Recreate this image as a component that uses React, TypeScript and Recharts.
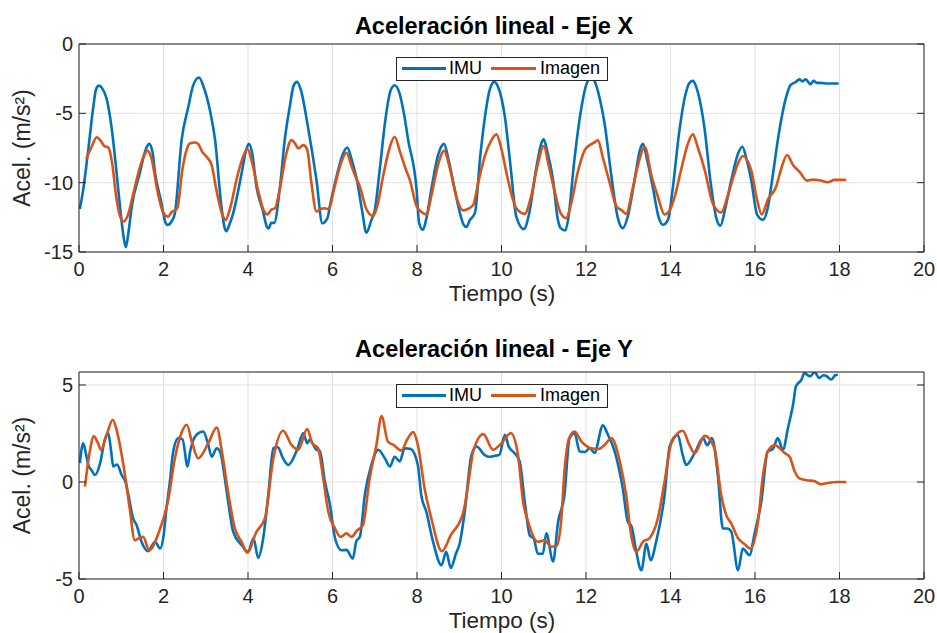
import { CartesianGrid, Legend, Line, LineChart, XAxis, YAxis } from "recharts";

const FONT = '"Liberation Sans", Arial, Helvetica, sans-serif';
const INK = "#262626";
const GRID = "#e1e1e1";
const BLUE = "#0072BD";
const ORANGE = "#D95319";

const timeTicks = [0, 2, 4, 6, 8, 10, 12, 14, 16, 18, 20];
const accelXTicks = [-15, -10, -5, 0];
const accelYTicks = [-5, 0, 5];

// Eje X - IMU
const imuXTime = [
  0.02, 0.1, 0.22, 0.34, 0.4, 0.47, 0.55, 0.65, 0.77, 0.88, 0.98, 1.06, 1.11, 1.17, 1.25, 1.44, 1.58, 1.66, 1.74,
  1.8, 1.94, 2.05, 2.1, 2.19, 2.27, 2.43, 2.59, 2.7, 2.84, 2.95, 3.1, 3.22, 3.37, 3.45, 3.49, 3.55, 3.65, 3.85,
  3.96, 4.02, 4.1, 4.2, 4.35, 4.45, 4.49, 4.55, 4.62, 4.75, 4.87, 4.99, 5.08, 5.16, 5.25, 5.42, 5.62, 5.76, 5.88,
  5.95, 6.1, 6.25, 6.35, 6.45, 6.57, 6.7, 6.8, 6.92, 7.0, 7.12, 7.25, 7.37, 7.47, 7.57, 7.69, 7.79, 7.99, 8.05,
  8.14, 8.22, 8.35, 8.5, 8.64, 8.75, 8.9, 8.97, 9.1, 9.17, 9.25, 9.37, 9.5, 9.62, 9.72, 9.83, 9.92, 10.08, 10.22,
  10.35, 10.53, 10.65, 10.82, 10.95, 11.0, 11.08, 11.22, 11.33, 11.4, 11.51, 11.58, 11.72, 11.88, 12.0, 12.13,
  12.22, 12.33, 12.44, 12.6, 12.75, 12.87, 13.0, 13.15, 13.28, 13.35, 13.45, 13.58, 13.72, 13.82, 13.94, 14.05,
  14.2, 14.35, 14.45, 14.53, 14.62, 14.81, 14.95, 15.08, 15.18, 15.3, 15.44, 15.6, 15.7, 15.8, 15.91, 16.05,
  16.19, 16.3, 16.42, 16.54, 16.74, 16.84, 16.97, 17.05, 17.12, 17.2, 17.31, 17.39, 17.46, 17.55, 17.72, 17.85,
  17.98,
];
const imuXAccel = [
  -11.9, -10.5, -7.6, -4.5, -3.3, -3.0, -3.2, -3.9, -6.0, -9.0, -12.0, -14.0, -14.65, -13.6, -11.7, -9.3, -7.6,
  -7.2, -7.8, -9.3, -11.3, -12.9, -13.05, -12.8, -12.2, -6.9, -4.5, -3.0, -2.42, -3.1, -4.8, -6.9, -11.7, -13.3,
  -13.5, -13.1, -12.2, -9.3, -7.6, -7.2, -7.9, -10.3, -12.0, -13.2, -13.3, -12.9, -12.9, -10.5, -6.9, -4.5, -3.0,
  -2.73, -3.3, -6.0, -9.8, -12.93, -12.56, -11.5, -9.5, -7.9, -7.46, -8.3, -9.7, -12.0, -13.6, -12.7, -12.0,
  -9.0, -5.5, -3.4, -2.97, -3.4, -5.0, -6.9, -10.5, -12.9, -13.4, -12.6, -10.3, -8.0, -7.2, -8.4, -10.6, -11.6,
  -13.0, -13.2, -12.7, -12.2, -8.0, -5.0, -3.3, -2.73, -3.1, -5.25, -9.0, -12.45, -13.35, -12.3, -9.0, -7.1,
  -6.88, -7.7, -9.8, -12.6, -13.28, -13.45, -12.6, -8.5, -4.8, -3.0, -2.4, -2.8, -4.0, -5.73, -9.5, -12.5,
  -13.28, -12.3, -9.8, -7.6, -7.2, -8.4, -10.3, -12.5, -13.04, -12.68, -10.5, -6.5, -3.7, -2.8, -2.66, -3.2,
  -6.2, -10.0, -12.5, -13.1, -11.8, -9.8, -7.9, -7.41, -8.3, -9.8, -12.3, -12.68, -11.85, -9.5, -6.93, -3.8,
  -2.97, -2.73, -2.55, -2.7, -2.55, -2.9, -2.65, -2.8, -2.8, -2.85, -2.85, -2.85,
];

// Eje X - Imagen
const imgXTime = [
  0.17, 0.3, 0.42, 0.52, 0.6, 0.69, 0.78, 0.88, 0.97, 1.05, 1.15, 1.3, 1.45, 1.55, 1.62, 1.72, 1.85, 2.0, 2.11,
  2.2, 2.27, 2.33, 2.45, 2.55, 2.62, 2.75, 2.82, 2.92, 3.02, 3.14, 3.25, 3.38, 3.47, 3.58, 3.75, 3.9, 3.99, 4.1,
  4.25, 4.37, 4.46, 4.55, 4.64, 4.75, 4.9, 5.03, 5.12, 5.19, 5.31, 5.4, 5.5, 5.62, 5.72, 5.82, 5.9, 6.05, 6.2,
  6.33, 6.45, 6.55, 6.65, 6.8, 6.96, 7.05, 7.2, 7.35, 7.47, 7.6, 7.73, 7.83, 7.99, 8.1, 8.22, 8.35, 8.5, 8.64,
  8.78, 8.95, 9.09, 9.2, 9.33, 9.45, 9.6, 9.75, 9.88, 10.0, 10.12, 10.25, 10.35, 10.55, 10.7, 10.85, 11.0, 11.12,
  11.26, 11.4, 11.53, 11.65, 11.8, 11.97, 12.09, 12.2, 12.28, 12.4, 12.56, 12.72, 12.85, 12.95, 13.1, 13.25,
  13.39, 13.55, 13.7, 13.86, 13.98, 14.1, 14.25, 14.4, 14.53, 14.65, 14.81, 15.0, 15.2, 15.35, 15.48, 15.6,
  15.71, 15.91, 16.05, 16.16, 16.3, 16.5, 16.62, 16.76, 16.9, 17.05, 17.23, 17.39, 17.55, 17.72, 17.88, 18.16,
];
const imgXAccel = [
  -8.3, -7.4, -6.73, -7.0, -7.36, -7.45, -8.5, -11.0, -12.4, -12.8, -12.4, -10.6, -8.8, -8.0, -7.7, -8.3, -10.5,
  -12.2, -12.45, -12.1, -12.0, -11.8, -9.0, -7.6, -7.17, -7.1, -7.2, -7.8, -8.13, -8.73, -10.5, -12.2, -12.68,
  -11.8, -9.5, -8.0, -7.58, -8.6, -10.7, -12.0, -12.3, -11.95, -11.85, -10.5, -8.0, -6.93, -7.2, -7.53, -7.29,
  -7.6, -10.0, -12.08, -11.9, -11.85, -11.9, -10.3, -8.6, -7.84, -8.8, -9.6, -10.3, -11.9, -12.4, -11.8, -9.5,
  -7.5, -6.69, -7.8, -9.0, -9.8, -11.7, -12.1, -12.3, -10.8, -8.7, -7.7, -9.0, -11.2, -12.0, -11.9, -11.6,
  -10.0, -8.13, -7.0, -6.52, -7.6, -9.33, -11.0, -11.85, -12.25, -11.0, -8.8, -7.36, -8.8, -10.65, -12.2,
  -12.56, -11.5, -9.3, -7.65, -7.29, -7.1, -6.93, -8.2, -10.0, -11.7, -12.0, -12.25, -10.5, -8.5, -7.41, -9.5,
  -11.0, -12.3, -12.0, -11.0, -9.09, -7.3, -6.52, -7.5, -9.09, -11.5, -12.15, -11.0, -9.68, -8.6, -8.08, -9.09,
  -11.25, -12.3, -11.25, -10.29, -9.0, -8.0, -8.73, -9.2, -9.85, -9.78, -9.85, -9.97, -9.8, -9.8,
];

// Eje Y - IMU
const imuYTime = [
  0.02, 0.1, 0.16, 0.22, 0.3, 0.38, 0.5, 0.61, 0.69, 0.76, 0.81, 0.9, 1.01, 1.1, 1.17, 1.28, 1.36, 1.48, 1.64,
  1.72, 1.8, 1.92, 2.0, 2.07, 2.15, 2.23, 2.35, 2.45, 2.57, 2.63, 2.78, 2.94, 3.05, 3.14, 3.26, 3.35, 3.45, 3.53,
  3.65, 3.85, 4.0, 4.13, 4.24, 4.36, 4.48, 4.6, 4.7, 4.83, 4.95, 5.15, 5.31, 5.4, 5.46, 5.62, 5.7, 5.82, 5.94,
  6.06, 6.21, 6.33, 6.48, 6.56, 6.65, 6.77, 6.92, 7.08, 7.24, 7.36, 7.47, 7.59, 7.71, 7.85, 8.02, 8.1, 8.22,
  8.38, 8.58, 8.69, 8.8, 8.92, 9.01, 9.13, 9.29, 9.41, 9.6, 9.7, 9.84, 9.95, 10.08, 10.17, 10.31, 10.43, 10.55,
  10.67, 10.76, 10.86, 10.98, 11.06, 11.22, 11.34, 11.49, 11.61, 11.73, 11.85, 11.97, 12.09, 12.2, 12.4, 12.52,
  12.68, 12.87, 12.99, 13.08, 13.19, 13.31, 13.43, 13.53, 13.66, 13.86, 13.98, 14.17, 14.29, 14.37, 14.57,
  14.77, 14.87, 14.98, 15.12, 15.24, 15.35, 15.44, 15.6, 15.71, 15.87, 15.99, 16.15, 16.3, 16.42, 16.54, 16.66,
  16.78, 16.9, 16.97, 17.1, 17.17, 17.25, 17.31, 17.41, 17.52, 17.62, 17.7, 17.8, 17.9, 17.96,
];
const imuYAccel = [
  0.97, 2.0, 1.5, 0.88, 0.6, 0.36, 0.97, 2.17, 2.52, 1.6, 0.8, 0.9, 0.36, 0.0, -0.67, -1.88, -2.2, -3.08, -3.57,
  -3.3, -3.08, -3.43, -2.8, -1.36, 0.0, 1.57, 2.26, 2.2, 0.8, 1.57, 2.43, 2.6, 2.0, 1.31, 1.74, 1.5, 0.2, -1.01,
  -2.57, -3.26, -3.6, -2.9, -3.91, -2.9, -0.67, 1.74, 1.8, 1.22, 0.88, 1.6, 2.52, 2.0, 2.17, 1.66, 1.6, 0.02,
  -1.17, -2.9, -3.52, -3.5, -3.95, -3.08, -2.8, -0.58, 0.88, 1.66, 1.22, 0.8, 1.3, 1.06, 1.74, 1.7, 0.88, -0.67,
  -1.53, -3.08, -4.29, -3.6, -4.43, -3.7, -3.17, -1.53, 1.4, 1.83, 1.4, 1.3, 1.35, 1.4, 2.43, 1.83, 1.48, 1.06,
  -1.01, -2.76, -2.9, -3.69, -3.7, -2.65, -4.09, -2.05, -0.67, 2.26, 2.52, 1.57, 1.55, 1.74, 1.5, 2.92, 2.43,
  1.57, -0.33, -2.05, -2.3, -3.6, -4.55, -3.19, -4.03, -3.08, -0.67, 1.83, 2.43, 1.38, 0.88, 1.48, 2.26, 1.9,
  2.26, 0.36, -2.4, -2.4, -2.57, -4.55, -3.43, -3.77, -2.65, -1.01, 1.57, 1.7, 2.26, 1.66, 2.78, 3.98, 4.93,
  5.28, 5.62, 5.5, 5.45, 5.67, 5.36, 5.5, 5.45, 5.28, 5.5, 5.53,
];

// Eje Y - Imagen
const imgYTime = [
  0.14, 0.25, 0.35, 0.45, 0.52, 0.65, 0.8, 0.9, 1.01, 1.1, 1.2, 1.32, 1.42, 1.52, 1.66, 1.88, 2.11, 2.27, 2.42,
  2.55, 2.68, 2.82, 3.06, 3.26, 3.38, 3.49, 3.69, 3.85, 3.98, 4.2, 4.4, 4.6, 4.83, 5.03, 5.19, 5.4, 5.52, 5.66,
  5.78, 5.9, 6.06, 6.19, 6.33, 6.45, 6.58, 6.72, 6.88, 7.04, 7.16, 7.31, 7.45, 7.63, 7.77, 7.91, 8.02, 8.18, 8.34,
  8.59, 8.8, 9.09, 9.21, 9.33, 9.57, 9.8, 10.0, 10.22, 10.39, 10.51, 10.63, 10.86, 11.02, 11.18, 11.3, 11.41,
  11.49, 11.6, 11.73, 11.89, 12.12, 12.3, 12.44, 12.6, 12.8, 12.95, 13.07, 13.19, 13.35, 13.5, 13.7, 13.86,
  14.02, 14.29, 14.45, 14.57, 14.81, 15.04, 15.2, 15.32, 15.44, 15.6, 15.75, 15.89, 16.07, 16.19, 16.3, 16.47,
  16.58, 16.71, 16.82, 16.94, 17.05, 17.23, 17.4, 17.56, 17.72, 17.96, 18.16,
];
const imgYAccel = [
  -0.24, 1.5, 2.35, 2.0, 1.66, 2.4, 3.21, 2.6, 1.4, 0.2, -1.36, -3.0, -2.9, -2.83, -3.52, -2.65, -0.93, 1.22,
  2.5, 2.95, 2.0, 1.22, 2.0, 2.81, 1.6, 0.02, -2.4, -3.1, -3.64, -2.57, -1.88, 1.22, 2.64, 1.91, 1.66, 2.73, 2.0,
  1.74, 0.19, -1.53, -2.4, -2.83, -2.65, -2.83, -2.5, -2.22, 0.19, 1.91, 3.4, 2.09, 1.9, 1.62, 2.2, 2.57, 1.91,
  -0.33, -1.88, -3.57, -2.74, -1.62, -0.15, 1.57, 2.47, 1.66, 2.0, 2.52, 1.4, -1.01, -2.05, -3.08, -3.0, -3.34,
  -3.3, -2.05, 0.55, 2.26, 2.6, 2.09, 1.74, 1.7, 1.91, 2.26, 1.06, -0.67, -2.76, -3.6, -3.08, -2.9, -1.88, 0.02,
  2.0, 2.64, 1.9, 1.48, 2.38, 1.74, -0.67, -1.71, -2.14, -2.9, -3.2, -3.43, -2.05, 0.36, 1.57, 1.91, 1.75, 1.48,
  1.3, 0.54, 0.19, 0.09, 0.05, -0.12, -0.05, 0.0, 0.0,
];

const toPoints = (time: number[], accel: number[]) => time.map((t, i) => ({ t, v: accel[i] }));

const imuX = toPoints(imuXTime, imuXAccel);
const imgX = toPoints(imgXTime, imgXAccel);
const imuY = toPoints(imuYTime, imuYAccel);
const imgY = toPoints(imgYTime, imgYAccel);

const tickFont = { fill: INK, fontSize: 20, fontFamily: FONT };
const noLabel = () => <g />;

function MatlabLegend() {
  return (
    <div
      style={{
        boxSizing: "border-box",
        width: 212,
        height: 24,
        border: `1px solid ${INK}`,
        background: "#fff",
        position: "relative",
        fontFamily: FONT,
        fontSize: 18,
        color: "#000",
      }}
    >
      <span style={{ position: "absolute", left: 5, top: 9, width: 44, height: 3, background: BLUE }} />
      <span style={{ position: "absolute", left: 52, top: -1, lineHeight: "22px" }}>IMU</span>
      <span style={{ position: "absolute", left: 94, top: 9, width: 45, height: 3, background: ORANGE }} />
      <span style={{ position: "absolute", left: 143, top: -1, lineHeight: "22px" }}>Imagen</span>
    </div>
  );
}

interface PanelProps {
  imu: { t: number; v: number }[];
  img: { t: number; v: number }[];
  height: number;
  marginTop: number;
  bottomAxis: number;
  labelGap: number;
  domain: [number, number];
  ticks: number[];
  legendTop: number;
}

function Panel({ imu, img, height, marginTop, bottomAxis, labelGap, domain, ticks, legendTop }: PanelProps) {
  return (
    <LineChart width={937} height={height} margin={{ top: marginTop, right: 12, bottom: 0, left: 0 }}>
      <CartesianGrid stroke={GRID} strokeWidth={1} />
      <XAxis
        dataKey="t"
        type="number"
        domain={[0, 20]}
        ticks={timeTicks}
        interval={0}
        allowDataOverflow
        height={bottomAxis}
        tickSize={-7}
        tickMargin={labelGap}
        axisLine={{ stroke: INK }}
        tickLine={{ stroke: INK }}
        tick={tickFont}
      />
      <XAxis
        xAxisId="top"
        orientation="top"
        type="number"
        domain={[0, 20]}
        ticks={timeTicks}
        interval={0}
        height={1}
        tickSize={-7}
        axisLine={{ stroke: INK }}
        tickLine={{ stroke: INK }}
        tick={noLabel}
      />
      <YAxis
        type="number"
        domain={domain}
        ticks={ticks}
        interval={0}
        allowDataOverflow
        width={79}
        tickSize={-7}
        tickMargin={13}
        axisLine={{ stroke: INK }}
        tickLine={{ stroke: INK }}
        tick={tickFont}
      />
      <YAxis
        yAxisId="right"
        orientation="right"
        type="number"
        domain={domain}
        ticks={ticks}
        interval={0}
        allowDataOverflow
        width={1}
        tickSize={-7}
        axisLine={{ stroke: INK }}
        tickLine={{ stroke: INK }}
        tick={noLabel}
      />
      <Line
        data={imu}
        dataKey="v"
        name="IMU"
        type="monotone"
        stroke={BLUE}
        strokeWidth={2.6}
        dot={false}
        isAnimationActive={false}
      />
      <Line
        data={img}
        dataKey="v"
        name="Imagen"
        type="monotone"
        stroke={ORANGE}
        strokeWidth={2.6}
        dot={false}
        isAnimationActive={false}
      />
      <Legend
        layout="vertical"
        align="center"
        verticalAlign="middle"
        content={() => <MatlabLegend />}
        wrapperStyle={{ left: 396, top: legendTop, width: 212, height: 24 }}
      />
    </LineChart>
  );
}

export default function App() {
  return (
    <div style={{ position: "absolute", left: 0, top: 0, width: 937, height: 633, background: "#fff" }}>
      <div style={{ position: "absolute", left: 0, top: 0 }}>
        <Panel
          imu={imuX}
          img={imgX}
          height={318}
          marginTop={43}
          bottomAxis={66}
          labelGap={17}
          domain={[-15, 0]}
          ticks={accelXTicks}
          legendTop={57}
        />
      </div>
      <div style={{ position: "absolute", left: 0, top: 318 }}>
        <Panel
          imu={imuY}
          img={imgY}
          height={315}
          marginTop={53}
          bottomAxis={54}
          labelGap={17}
          domain={[-5, 5.67]}
          ticks={accelYTicks}
          legendTop={66}
        />
      </div>
      <svg
        width={937}
        height={633}
        style={{ position: "absolute", left: 0, top: 0, pointerEvents: "none" }}
        fontFamily={FONT}
      >
        <text x={494} y={34} textAnchor="middle" fontSize={23.5} fontWeight="bold" fill="#000">
          Aceleración lineal - Eje X
        </text>
        <text x={494} y={357} textAnchor="middle" fontSize={23.5} fontWeight="bold" fill="#000">
          Aceleración lineal - Eje Y
        </text>
        <text x={502} y={301} textAnchor="middle" fontSize={22.5} fill={INK}>
          Tiempo (s)
        </text>
        <text x={502} y={627.5} textAnchor="middle" fontSize={22.5} fill={INK}>
          Tiempo (s)
        </text>
        <text x={30} y={148} transform="rotate(-90 30 148)" textAnchor="middle" fontSize={23} fill={INK}>
          Acel. (m/s²)
        </text>
        <text x={30} y={475.5} transform="rotate(-90 30 475.5)" textAnchor="middle" fontSize={23} fill={INK}>
          Acel. (m/s²)
        </text>
      </svg>
    </div>
  );
}
